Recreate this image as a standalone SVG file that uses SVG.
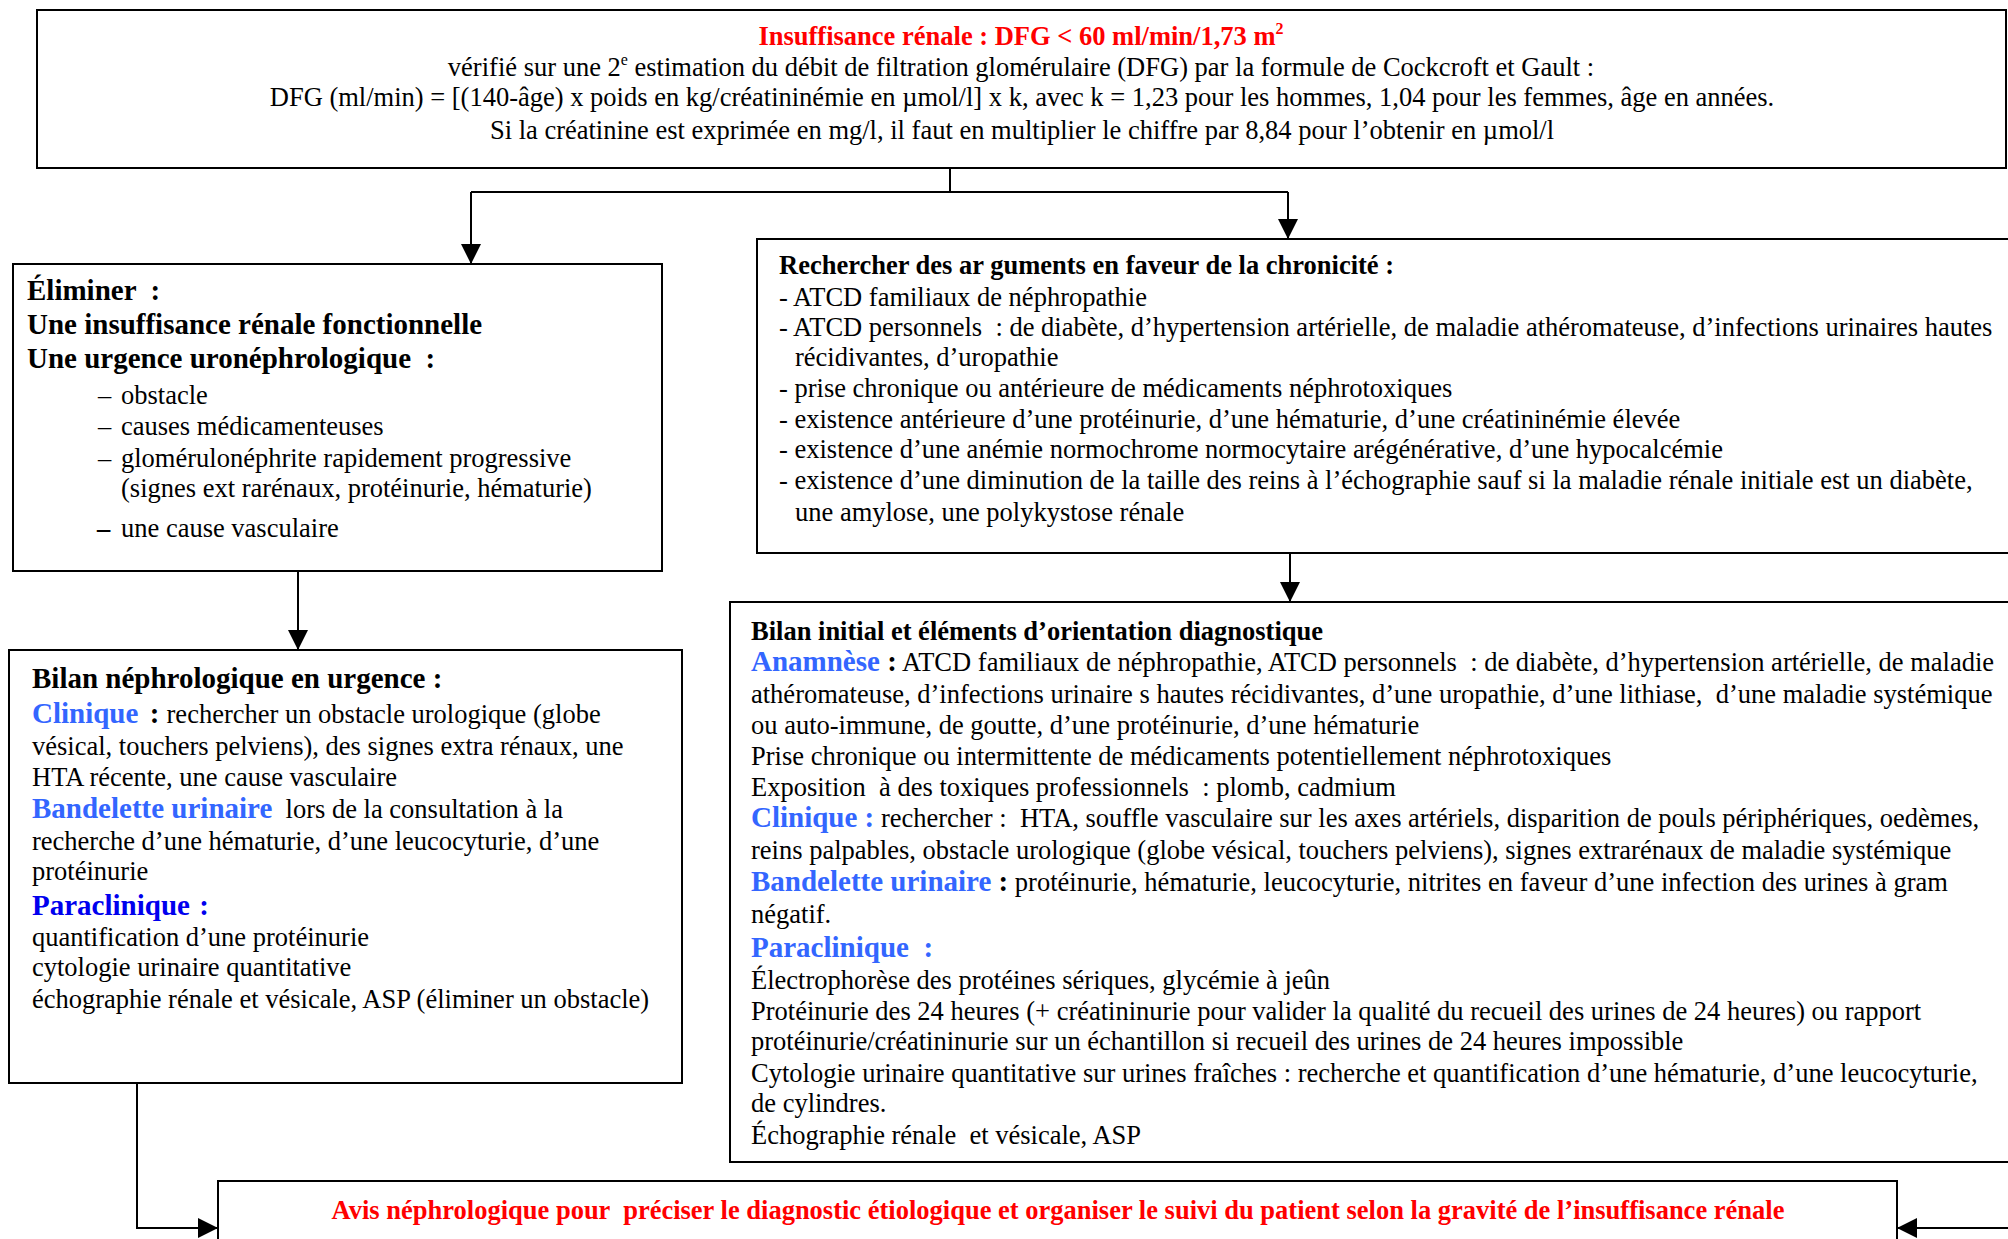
<svg xmlns="http://www.w3.org/2000/svg" width="2008" height="1239" viewBox="0 0 2008 1239">
<style>
text{font-family:"Liberation Serif","Times New Roman",serif;font-size:26.5px;fill:#000;white-space:pre}
.bd{font-weight:bold}
.h{font-weight:bold;font-size:29px}
.red{fill:#FF0000;font-weight:bold}
.lb{fill:#3366FF;font-weight:bold;font-size:29px}
.db{fill:#0000EE;font-weight:bold;font-size:29px}
.box{fill:#fff;stroke:#000;stroke-width:2}
.ln{fill:none;stroke:#000;stroke-width:2}
.c{text-anchor:middle}
</style>
<defs>
<marker id="arr" markerUnits="userSpaceOnUse" markerWidth="20" markerHeight="20" refX="20" refY="10" orient="auto">
<path d="M0,0 L20,10 L0,20 z" fill="#000"/>
</marker>
</defs>

<g id="connectors">
<path class="ln" d="M950,168 V192 M471,192 H1288"/>
<path class="ln" d="M471,192 V264" marker-end="url(#arr)"/>
<path class="ln" d="M1288,192 V239" marker-end="url(#arr)"/>
<path class="ln" d="M1290,553 V602" marker-end="url(#arr)"/>
<path class="ln" d="M298,571 V650" marker-end="url(#arr)"/>
<path class="ln" d="M137,1083 V1228 H218" marker-end="url(#arr)"/>
<path class="ln" d="M2012,1228 H1897" marker-end="url(#arr)"/>
</g>

<g id="node-dfg">
<rect class="box" x="37" y="10" width="1969" height="158"/>
<text class="red c" x="1021" y="45">Insuffisance rénale : DFG &lt; 60 ml/min/1,73 m<tspan font-size="16" dy="-11">2</tspan></text>
<text class="c" x="1021" y="76">vérifié sur une 2<tspan font-size="16" dy="-11">e</tspan><tspan dy="11"> estimation du débit de filtration glomérulaire (DFG) par la formule de Cockcroft et Gault :</tspan></text>
<text class="c" x="1022" y="106" font-size="26.7">DFG (ml/min) = [(140-âge) x poids en kg/créatininémie en µmol/l] x k, avec k = 1,23 pour les hommes, 1,04 pour les femmes, âge en années.</text>
<text class="c" x="1022" y="139">Si la créatinine est exprimée en mg/l, il faut en multiplier le chiffre par 8,84 pour l’obtenir en µmol/l</text>
</g>

<g id="node-eliminer">
<rect class="box" x="13" y="264" width="649" height="307"/>
<text class="h" x="27" y="300">Éliminer  :</text>
<text class="h" x="27" y="334">Une insuffisance rénale fonctionnelle</text>
<text class="h" x="27" y="368">Une urgence uronéphrologique  :</text>
<text x="98" y="404">–</text><text x="121" y="404">obstacle</text>
<text x="98" y="435">–</text><text x="121" y="435">causes médicamenteuses</text>
<text x="98" y="467">–</text><text x="121" y="467">glomérulonéphrite rapidement progressive</text>
<text x="121" y="497">(signes ext rarénaux, protéinurie, hématurie)</text>
<text x="97" y="537" font-weight="bold">–</text><text x="121" y="537">une cause vasculaire</text>
</g>

<g id="node-chronicite">
<rect class="box" x="757" y="239" width="1262" height="314"/>
<text class="bd" x="779" y="274">Rechercher des ar guments en faveur de la chronicité :</text>
<text x="779" y="306">- ATCD familiaux de néphropathie</text>
<text x="779" y="336">- ATCD personnels  : de diabète, d’hypertension artérielle, de maladie athéromateuse, d’infections urinaires hautes</text>
<text x="795" y="366">récidivantes, d’uropathie</text>
<text x="779" y="397">- prise chronique ou antérieure de médicaments néphrotoxiques</text>
<text x="779" y="428">- existence antérieure d’une protéinurie, d’une hématurie, d’une créatininémie élevée</text>
<text x="779" y="458">- existence d’une anémie normochrome normocytaire arégénérative, d’une hypocalcémie</text>
<text x="779" y="489">- existence d’une diminution de la taille des reins à l’échographie sauf si la maladie rénale initiale est un diabète,</text>
<text x="795" y="521">une amylose, une polykystose rénale</text>
</g>

<g id="node-bilan-urgence">
<rect class="box" x="9" y="650" width="673" height="433"/>
<text class="h" x="32" y="688">Bilan néphrologique en urgence :</text>
<text x="32" y="723"><tspan class="lb">Clinique</tspan><tspan class="bd" font-size="29" dx="4"> : </tspan>rechercher un obstacle urologique (globe</text>
<text x="32" y="755">vésical, touchers pelviens), des signes extra rénaux, une</text>
<text x="32" y="786">HTA récente, une cause vasculaire</text>
<text x="32" y="818"><tspan class="lb">Bandelette urinaire</tspan>  lors de la consultation à la</text>
<text x="32" y="850">recherche d’une hématurie, d’une leucocyturie, d’une</text>
<text x="32" y="880">protéinurie</text>
<text class="db" x="32" y="915">Paraclinique <tspan dx="2">:</tspan></text>
<text x="32" y="946">quantification d’une protéinurie</text>
<text x="32" y="976">cytologie urinaire quantitative</text>
<text x="32" y="1008">échographie rénale et vésicale, ASP (éliminer un obstacle)</text>
</g>

<g id="node-bilan-initial">
<rect class="box" x="730" y="602" width="1290" height="560"/>
<text class="bd" x="751" y="640">Bilan initial et éléments d’orientation diagnostique</text>
<text x="751" y="671"><tspan class="lb">Anamnèse</tspan><tspan class="bd" font-size="29"> :</tspan> ATCD familiaux de néphropathie, ATCD personnels  : de diabète, d’hypertension artérielle, de maladie</text>
<text x="751" y="703">athéromateuse, d’infections urinaire s hautes récidivantes, d’une uropathie, d’une lithiase,  d’une maladie systémique</text>
<text x="751" y="734">ou auto-immune, de goutte, d’une protéinurie, d’une hématurie</text>
<text x="751" y="765">Prise chronique ou intermittente de médicaments potentiellement néphrotoxiques</text>
<text x="751" y="796">Exposition  à des toxiques professionnels  : plomb, cadmium</text>
<text x="751" y="827"><tspan class="lb">Clinique :</tspan> rechercher :  HTA, souffle vasculaire sur les axes artériels, disparition de pouls périphériques, oedèmes,</text>
<text x="751" y="859">reins palpables, obstacle urologique (globe vésical, touchers pelviens), signes extrarénaux de maladie systémique</text>
<text x="751" y="891"><tspan class="lb">Bandelette urinaire</tspan><tspan class="bd" font-size="29"> :</tspan> protéinurie, hématurie, leucocyturie, nitrites en faveur d’une infection des urines à gram</text>
<text x="751" y="923">négatif.</text>
<text class="lb" x="751" y="957">Paraclinique  :</text>
<text x="751" y="989">Électrophorèse des protéines sériques, glycémie à jeûn</text>
<text x="751" y="1020">Protéinurie des 24 heures (+ créatininurie pour valider la qualité du recueil des urines de 24 heures) ou rapport</text>
<text x="751" y="1050">protéinurie/créatininurie sur un échantillon si recueil des urines de 24 heures impossible</text>
<text x="751" y="1082">Cytologie urinaire quantitative sur urines fraîches : recherche et quantification d’une hématurie, d’une leucocyturie,</text>
<text x="751" y="1112">de cylindres.</text>
<text x="751" y="1144">Échographie rénale  et vésicale, ASP</text>
</g>

<g id="node-avis">
<rect class="box" x="218" y="1181" width="1679" height="80"/>
<text class="red c" x="1058" y="1219" font-size="24.6">Avis néphrologique pour  préciser le diagnostic étiologique et organiser le suivi du patient selon la gravité de l’insuffisance rénale</text>
</g>
</svg>
